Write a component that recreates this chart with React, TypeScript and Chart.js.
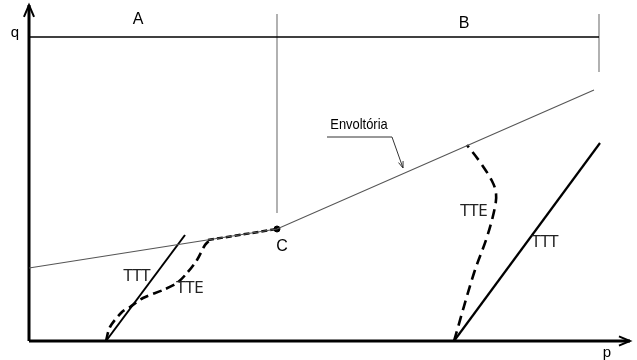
import React, { useEffect, useRef } from "react";
import { Chart, registerables } from "chart.js";

Chart.register(...registerables);

// Values in diagram units: p (horizontal) and q (vertical), origin at the axes' corner
const yAxisLine = [{ x: 0, y: 0 }, { x: 0, y: 336 }];
const xAxisLine = [{ x: 0, y: 0 }, { x: 601, y: 0 }];
const topLine = [{ x: 0, y: 304 }, { x: 570, y: 304 }];
const dividerC = [{ x: 248, y: 128 }, { x: 248, y: 327 }];
const dividerRight = [{ x: 570, y: 269 }, { x: 570, y: 327 }];
const envelope = [{ x: 0, y: 73 }, { x: 248, y: 112 }, { x: 565, y: 251 }];
const envelopeDashed = [{ x: 179, y: 101 }, { x: 248, y: 112 }];
const pointC = [{ x: 248, y: 112 }];
const tttLeft = [{ x: 77, y: 0 }, { x: 156, y: 106 }];
const tteLeft = [
  { x: 77, y: 0 }, { x: 81, y: 14 }, { x: 93, y: 29 }, { x: 101, y: 34 },
  { x: 114, y: 43 }, { x: 134, y: 51 }, { x: 148, y: 58 }, { x: 158, y: 68 },
  { x: 168, y: 81 }, { x: 176, y: 96 }, { x: 181, y: 101 },
];
const tttRight = [{ x: 425, y: 0 }, { x: 571, y: 198 }];
const tteRight = [
  { x: 425, y: 0 }, { x: 445, y: 68 }, { x: 458, y: 104 }, { x: 466, y: 134 },
  { x: 467, y: 148 }, { x: 463, y: 160 }, { x: 451, y: 179 }, { x: 438, y: 196 },
];
const envLeader = [{ x: 298, y: 204 }, { x: 363, y: 204 }, { x: 374, y: 173 }];

const labelTexts = ["q", "A", "B", "C", "p", "Envoltória", "TTT", "TTE", "TTE", "TTT"];
const labelP = [-14, 109, 435, 253, 578, 330, 108, 161, 445, 516];
const labelQ = [308, 321, 317, 94, -12, 216, 64, 52, 129, 98];
const labelKinds = ["axis", "big", "big", "big", "axis", "env", "tt", "tt", "tt", "tt"];

// Arrowheads: tip and the point the arrow comes from
const arrowTipP = [0, 601, 374];
const arrowTipQ = [336, 0, 173];
const arrowFromP = [0, 0, 363];
const arrowFromQ = [0, 0, 204];
const arrowSize = [13, 12, 7];

const labelPlugin = {
  id: "labels",
  afterDatasetsDraw(chart: any) {
    const ctx = chart.ctx;
    const xs = chart.scales.x;
    const ys = chart.scales.y;
    ctx.save();
    for (let i = 0; i < arrowTipP.length; i++) {
      const tx = xs.getPixelForValue(arrowTipP[i]);
      const ty = ys.getPixelForValue(arrowTipQ[i]);
      const fx = xs.getPixelForValue(arrowFromP[i]);
      const fy = ys.getPixelForValue(arrowFromQ[i]);
      const ang = Math.atan2(ty - fy, tx - fx);
      const s = arrowSize[i];
      const spread = i === 2 ? 0.35 : 0.4;
      ctx.beginPath();
      ctx.moveTo(tx - s * Math.cos(ang - spread), ty - s * Math.sin(ang - spread));
      ctx.lineTo(tx, ty);
      ctx.lineTo(tx - s * Math.cos(ang + spread), ty - s * Math.sin(ang + spread));
      ctx.strokeStyle = i === 2 ? "#333" : "#000";
      ctx.lineWidth = i === 2 ? 1 : 2;
      ctx.stroke();
    }
    ctx.textAlign = "center";
    ctx.textBaseline = "middle";
    for (let i = 0; i < labelTexts.length; i++) {
      const k = labelKinds[i];
      const px = xs.getPixelForValue(labelP[i]);
      const py = ys.getPixelForValue(labelQ[i]);
      if (k === "env") {
        ctx.save();
        ctx.font = "15px 'Liberation Sans', Arial, sans-serif";
        ctx.fillStyle = "#000";
        ctx.translate(px, py);
        ctx.scale(0.86, 1);
        ctx.fillText(labelTexts[i], 0, 0);
        ctx.restore();
        continue;
      }
      if (k === "big") {
        ctx.font = "16px 'Liberation Sans', Arial, sans-serif";
        ctx.fillStyle = "#000";
      } else if (k === "axis") {
        ctx.font = "15px 'Liberation Sans', Arial, sans-serif";
        ctx.fillStyle = "#000";
      } else {
        ctx.font = "15px 'DejaVu Sans', sans-serif";
        ctx.fillStyle = "#222";
      }
      ctx.fillText(labelTexts[i], px, py);
    }
    ctx.restore();
  },
};

function line(data: any[], color: string, width: number, dash: number[] = [], tension = 0) {
  return {
    data,
    showLine: true,
    borderColor: color,
    borderWidth: width,
    borderDash: dash,
    pointRadius: 0,
    pointHoverRadius: 0,
    fill: false,
    tension,
    borderCapStyle: "butt",
  };
}

export default function App() {
  const ref = useRef<HTMLCanvasElement>(null);
  useEffect(() => {
    if (!ref.current) return;
    const chart = new Chart(ref.current, {
      type: "scatter",
      data: {
        datasets: [
          line(topLine, "#000", 1.5),
          line(dividerC, "#888", 1.3),
          line(dividerRight, "#888", 1.3),
          line(envelope, "#555", 1.1),
          line(envelopeDashed, "#000", 2.5, [6, 3]),
          line(tttLeft, "#000", 2),
          line(tteLeft, "#000", 2.6, [9, 5], 0.3),
          line(tttRight, "#000", 2.2),
          line(tteRight, "#000", 2.6, [10, 6], 0.35),
          line(envLeader, "#333", 1),
          line(yAxisLine, "#000", 3),
          line(xAxisLine, "#000", 3),
          {
            data: pointC,
            pointRadius: 3,
            pointBackgroundColor: "#000",
            pointBorderColor: "#000",
            showLine: false,
          },
        ] as any,
      },
      options: {
        animation: false,
        responsive: false,
        maintainAspectRatio: false,
        events: [],
        layout: { padding: 0, autoPadding: false },
        plugins: { legend: { display: false }, tooltip: { enabled: false } },
        scales: {
          x: { type: "linear", min: -29, max: 608, display: false },
          y: { type: "linear", min: -19, max: 341, display: false },
        },
      },
      plugins: [labelPlugin],
    });
    return () => chart.destroy();
  }, []);
  return (
    <div style={{ position: "absolute", left: 0, top: 0, width: 637, height: 360, background: "#fff" }}>
      <canvas ref={ref} width={637} height={360} style={{ display: "block" }} />
    </div>
  );
}
